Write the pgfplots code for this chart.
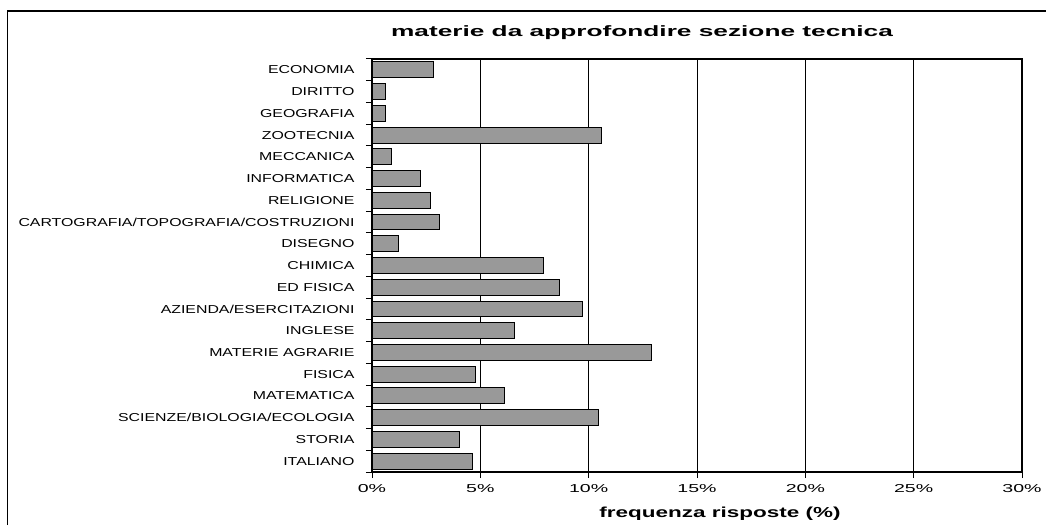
\documentclass[border=0pt]{standalone}
\usepackage{fontspec}
\setmainfont{Liberation Sans}
\newfontfamily\catfont[FakeStretch=1.38]{Liberation Sans}
\newfontfamily\tickfont[FakeStretch=1.7]{Liberation Sans}
\newfontfamily\titfont[FakeStretch=1.75]{Liberation Sans}
\newfontfamily\labfont[FakeStretch=1.55]{Liberation Sans}
\usepackage{pgfplots}
\pgfplotsset{compat=1.18}
\definecolor{bargray}{RGB}{153,153,153}

\begin{document}
\begin{tikzpicture}
\useasboundingbox (0,0) rectangle (1046pt,525pt);
\draw[line width=1.5pt] (7.5pt,0) -- (7.5pt,514pt) -- (1046pt,514pt);
\begin{axis}[
    at={(372pt,53pt)}, anchor=south west,
    scale only axis,
    width=650pt, height=413pt,
    xmin=0, xmax=30,
    ymin=-0.5, ymax=18.5,
    xbar, bar width=0.73,
    axis line style={line width=1.1pt},
    xtick={0,5,...,30},
    xticklabels={0\%,5\%,10\%,15\%,20\%,25\%,30\%},
    xticklabel style={font=\tickfont\fontsize{11.5}{13}\selectfont, yshift=-3pt},
    ytick={0,...,18},
    yticklabels={ITALIANO,STORIA,SCIENZE/BIOLOGIA/ECOLOGIA,MATEMATICA,FISICA,
        MATERIE AGRARIE,INGLESE,AZIENDA/ESERCITAZIONI,ED FISICA,CHIMICA,DISEGNO,
        CARTOGRAFIA/TOPOGRAFIA/COSTRUZIONI,RELIGIONE,INFORMATICA,MECCANICA,
        ZOOTECNIA,GEOGRAFIA,DIRITTO,ECONOMIA},
    yticklabel style={font=\catfont\fontsize{11.5}{13}\selectfont, xshift=-8pt},
    minor ytick={-0.5,0.5,...,18.5},
    major y tick style={draw=none},
    tick align=outside, tick pos=left,
    major tick length=6pt, minor tick length=6pt,
    tick style={black, line width=1pt},
    xmajorgrids, grid style={black, line width=0.9pt},
]
\addplot[fill=bargray, draw=black, line width=1pt] coordinates {
    (4.63,0) (4.05,1) (10.45,2) (6.13,3) (4.79,4) (12.92,5) (6.57,6)
    (9.71,7) (8.66,8) (7.92,9) (1.20,10) (3.13,11) (2.69,12) (2.24,13)
    (0.90,14) (10.60,15) (0.60,16) (0.60,17) (2.84,18)
};
\end{axis}
\node[font=\titfont\bfseries\fontsize{15}{17}\selectfont] at (642pt,492pt) {materie da approfondire sezione tecnica};
\node[font=\labfont\bfseries\fontsize{14.5}{16}\selectfont] at (720pt,11pt) {frequenza risposte (\%)};
\end{tikzpicture}
\end{document}
